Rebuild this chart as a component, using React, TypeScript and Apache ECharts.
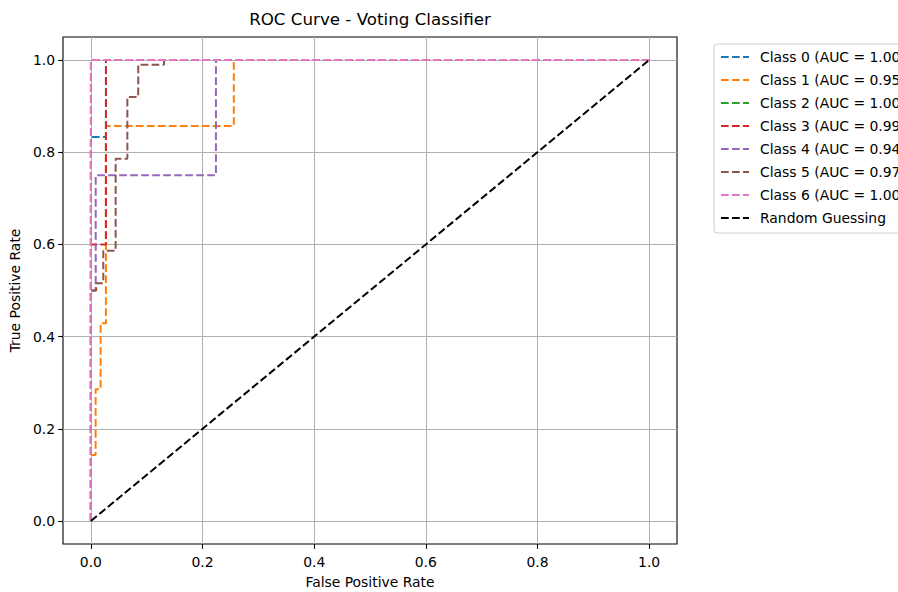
import React, { useEffect, useRef } from "react";
import * as echarts from "echarts";

const classNames = [
  "Class 0 (AUC = 1.00)",
  "Class 1 (AUC = 0.95)",
  "Class 2 (AUC = 1.00)",
  "Class 3 (AUC = 0.99)",
  "Class 4 (AUC = 0.94)",
  "Class 5 (AUC = 0.97)",
  "Class 6 (AUC = 1.00)",
];
const classColors = ["#1f77b4", "#ff7f0e", "#2ca02c", "#d62728", "#9467bd", "#8c564b", "#e377c2"];

const fpr0 = [0, 0, 0.027, 0.027, 1];
const tpr0 = [0, 0.833, 0.833, 1, 1];
const fpr1 = [0, 0, 0.0084, 0.0084, 0.0174, 0.0174, 0.0269, 0.0269, 0.256, 0.256, 1];
const tpr1 = [0, 0.143, 0.143, 0.286, 0.286, 0.429, 0.429, 0.857, 0.857, 1, 1];
const fpr2 = [0, 0, 1];
const tpr2 = [0, 1, 1];
const fpr3 = [0, 0, 0.0269, 0.0269, 1];
const tpr3 = [0, 0.6, 0.6, 1, 1];
const fpr4 = [0, 0, 0.0086, 0.0086, 0.224, 0.224, 1];
const tpr4 = [0, 0.5, 0.5, 0.75, 0.75, 1, 1];
const fpr5 = [0, 0, 0.0095, 0.0095, 0.0222, 0.0222, 0.0443, 0.0443, 0.0653, 0.0653, 0.0848, 0.0848, 0.131, 0.131, 1];
const tpr5 = [0, 0.5, 0.5, 0.516, 0.516, 0.586, 0.586, 0.786, 0.786, 0.92, 0.92, 0.99, 0.99, 1, 1];
const fpr6 = [0, 0, 1];
const tpr6 = [0, 1, 1];
const randomX = [0, 1];
const randomY = [0, 1];

const tickValues = [0, 0.2, 0.4, 0.6, 0.8, 1.0];

const allFpr = [fpr0, fpr1, fpr2, fpr3, fpr4, fpr5, fpr6];
const allTpr = [tpr0, tpr1, tpr2, tpr3, tpr4, tpr5, tpr6];

const FONT = "DejaVu Sans";
const DASH = [7.7, 3.3];

export default function App() {
  const ref = useRef<HTMLDivElement>(null);
  useEffect(() => {
    if (!ref.current) return;
    const chart = echarts.init(ref.current, null, { renderer: "svg" });
    const zip = (xs: number[], ys: number[]) => xs.map((x, i) => [x, ys[i]]);
    const series: any[] = classNames.map((name, i) => ({
      name,
      type: "line",
      data: zip(allFpr[i], allTpr[i]),
      symbol: "none",
      lineStyle: { color: classColors[i], width: 2, type: DASH },
      itemStyle: { color: classColors[i] },
      z: 2 + i,
    }));
    series.push({
      name: "Random Guessing",
      type: "line",
      data: zip(randomX, randomY),
      symbol: "none",
      lineStyle: { color: "#000", width: 2, type: DASH },
      itemStyle: { color: "#000" },
      z: 10,
    });
    const axisCommon = {
      type: "value",
      min: -0.05,
      max: 1.05,
      axisLine: { show: false, onZero: false },
      axisTick: { show: true, length: 4.9, lineStyle: { color: "#000", width: 1.1 }, customValues: tickValues },
      axisLabel: {
        customValues: tickValues,
        formatter: (v: number) => v.toFixed(1),
        fontFamily: FONT,
        fontSize: 13.9,
        color: "#000",
      },
      splitLine: { show: true, lineStyle: { color: "#b0b0b0", width: 1 } },
      nameLocation: "middle",
      nameTextStyle: { fontFamily: FONT, fontSize: 13.9, color: "#000" },
    };
    chart.setOption({
      animation: false,
      backgroundColor: "#fff",
      title: {
        text: "ROC Curve - Voting Classifier",
        left: 370,
        top: 10,
        textAlign: "center",
        padding: 0,
        textStyle: { fontFamily: FONT, fontSize: 16.7, fontWeight: "normal", color: "#000" },
      },
      grid: {
        left: 63,
        right: 221,
        top: 37,
        bottom: 48,
        show: true,
        borderColor: "#000",
        borderWidth: 1.1,
        backgroundColor: "transparent",
        containLabel: false,
        outerBoundsMode: "none",
      },
      xAxis: {
        ...axisCommon,
        name: "False Positive Rate",
        nameGap: 31,
        axisLabel: { ...axisCommon.axisLabel, margin: 11 },
      },
      yAxis: {
        ...axisCommon,
        name: "True Positive Rate",
        nameGap: 37,
        axisLabel: { ...axisCommon.axisLabel, margin: 8 },
      },
      legend: {
        orient: "vertical",
        left: 714,
        top: 44,
        itemWidth: 28,
        itemHeight: 14,
        itemGap: 9,
        padding: [6, 8, 8, 6],
        borderColor: "#cccccc",
        borderWidth: 1,
        borderRadius: 3,
        backgroundColor: "#fff",
        itemStyle: { opacity: 0, borderWidth: 0 },
        textStyle: { fontFamily: FONT, fontSize: 13.9, color: "#000", padding: [0, 0, 0, 6] },
        data: [...classNames, "Random Guessing"],
      },
      series,
    });
    return () => chart.dispose();
  }, []);
  return <div ref={ref} style={{ width: 898, height: 592, position: "absolute", left: 0, top: 0 }} />;
}
